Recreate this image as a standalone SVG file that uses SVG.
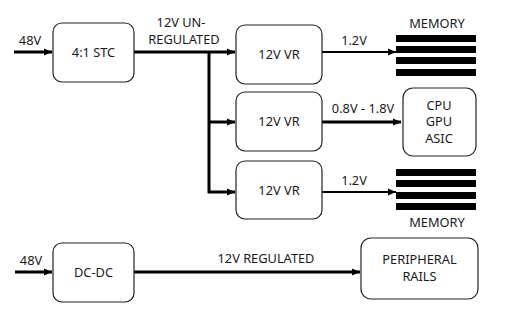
<svg xmlns="http://www.w3.org/2000/svg" width="508" height="318" viewBox="0 0 508 318">
<defs>
<marker id="ah" markerWidth="8" markerHeight="8" viewBox="0 0 8 8" refX="8" refY="4" orient="auto" markerUnits="userSpaceOnUse">
<path d="M0,0.5 L8,4 L0,7.5 Z" fill="#000"/>
</marker>
</defs>
<style>
text{font-family:"Noto Sans","Open Sans",sans-serif;font-size:12.8px;fill:#1a1a1a;text-anchor:middle}
.box{fill:#fff;stroke:#222;stroke-width:1.2}
.w{fill:none;stroke:#000;stroke-width:3}
.t{fill:none;stroke:#000;stroke-width:2}
.bar{fill:#000}
</style>
<rect width="508" height="318" fill="#fff"/>
<g id="connectors">
<path class="w" d="M14,52 H52" marker-end="url(#ah)"/>
<path class="w" d="M134,52 H235" marker-end="url(#ah)"/>
<path class="w" d="M209,52 V192 H235" marker-end="url(#ah)"/>
<path class="w" d="M209,122 H235" marker-end="url(#ah)"/>
<path class="t" d="M322,52 H396" marker-end="url(#ah)"/>
<path class="w" d="M322,122 H401" marker-end="url(#ah)"/>
<path class="t" d="M322,192 H396" marker-end="url(#ah)"/>
<path class="w" d="M15,272 H52" marker-end="url(#ah)"/>
<path class="w" d="M134,272 H360" marker-end="url(#ah)"/>
<text x="30" y="45">48V</text>
<text x="31" y="265">48V</text>
<text x="181" y="26.5">12V UN-</text>
<text x="184" y="44">REGULATED</text>
<text x="354" y="45">1.2V</text>
<text x="354" y="185">1.2V</text>
<text x="363" y="113">0.8V - 1.8V</text>
<text x="266" y="263">12V REGULATED</text>
</g>
<g id="stc"><rect class="box" x="53" y="23" width="81" height="59" rx="9"/><text x="93.5" y="57">4:1 STC</text></g>
<g id="vr1"><rect class="box" x="236" y="25" width="86" height="59" rx="9"/><text x="279" y="59">12V VR</text></g>
<g id="vr2"><rect class="box" x="236" y="92" width="86" height="59" rx="9"/><text x="279" y="126">12V VR</text></g>
<g id="vr3"><rect class="box" x="236" y="161" width="86" height="58" rx="9"/><text x="279" y="194.5">12V VR</text></g>
<g id="mem1">
<text x="437" y="28">MEMORY</text>
<rect class="bar" x="396" y="35" width="80" height="7"/>
<rect class="bar" x="396" y="46" width="80" height="7"/>
<rect class="bar" x="396" y="57" width="80" height="7"/>
<rect class="bar" x="396" y="69" width="80" height="7"/>
</g>
<g id="cpu"><rect class="box" x="403" y="88" width="73" height="68" rx="10"/>
<text x="439" y="109.5">CPU</text><text x="439" y="126">GPU</text><text x="439" y="142.5">ASIC</text></g>
<g id="mem2">
<rect class="bar" x="396" y="169" width="80" height="7"/>
<rect class="bar" x="396" y="180" width="80" height="7"/>
<rect class="bar" x="396" y="192" width="80" height="7"/>
<rect class="bar" x="396" y="203" width="80" height="7"/>
<text x="437" y="227">MEMORY</text>
</g>
<g id="dcdc"><rect class="box" x="53" y="243" width="81" height="59" rx="9"/><text x="93.5" y="277">DC-DC</text></g>
<g id="periph"><rect class="box" x="361" y="238" width="117" height="61" rx="10"/>
<text x="419.5" y="263.5">PERIPHERAL</text><text x="419.5" y="280.5">RAILS</text></g>
</svg>
